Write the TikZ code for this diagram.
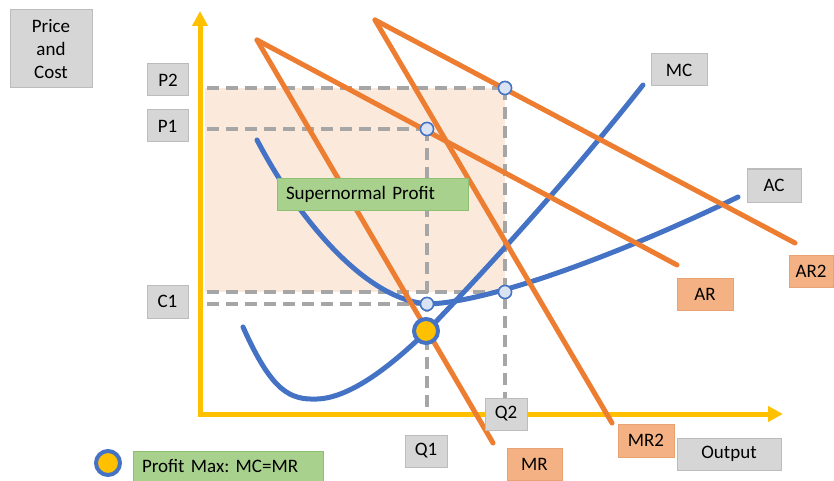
\documentclass[tikz,border=0pt]{standalone}
\usepackage{fontspec}
\setmainfont{Carlito}
\frenchspacing
\usetikzlibrary{arrows.meta}
\definecolor{axisc}{HTML}{FFC000}
\definecolor{bluec}{HTML}{4472C4}
\definecolor{orangec}{HTML}{ED7D31}
\definecolor{profitfill}{HTML}{FBE9DC}
\definecolor{dashc}{HTML}{A6A6A6}
\definecolor{grayf}{HTML}{D6D6D6}
\definecolor{grayb}{HTML}{BCBCBC}
\definecolor{salf}{HTML}{F4B183}
\definecolor{salb}{HTML}{E8A274}
\definecolor{greenf}{HTML}{A9D18E}
\definecolor{greenb}{HTML}{8FBF70}
\definecolor{ptf}{HTML}{DAE3F3}
\tikzset{
  lbl/.style={draw=grayb, fill=grayf, line width=1pt, inner sep=0pt, align=center, font=\fontsize{19}{23}\selectfont},
  sal/.style={draw=salb, fill=salf, line width=1pt, inner sep=0pt, align=center, font=\fontsize{19}{23}\selectfont},
  grn/.style={draw=greenb, fill=greenf, line width=1pt, inner sep=0pt, font=\fontsize{19}{23}\selectfont},
  guide/.style={dashc, line width=4pt, dash pattern=on 12pt off 7pt},
  curve/.style={bluec, line width=5pt, line cap=round},
  revline/.style={orangec, line width=5pt, line cap=round},
  pt/.style={circle, draw=bluec, fill=ptf, line width=1.5pt, minimum size=13pt, inner sep=0pt},
  maxpt/.style={circle, draw=bluec, fill=axisc, line width=4pt, minimum size=24pt, inner sep=0pt},
}
\begin{document}
\begin{tikzpicture}[x=1pt,y=-1pt]
\useasboundingbox (0,0) rectangle (834,481);
% shaded profit area
\fill[profitfill] (205,88) rectangle (505,292);
% coordinates
\coordinate (o) at (200,414);
\coordinate (ytip) at (200,11);
\coordinate (xtip) at (783,414);
\coordinate (p2s) at (207,88);
\coordinate (p1s) at (207,129);
\coordinate (c1s) at (207,292);
\coordinate (c1ls) at (207,304);
\coordinate (q1b) at (427,413);
\coordinate (q2b) at (505,398);
\coordinate (artop) at (257,40);
\coordinate (arend) at (677,265);
\coordinate (mrend) at (493,443);
\coordinate (ar2top) at (375,20);
\coordinate (ar2end) at (795,243);
\coordinate (mr2end) at (612,423);
% points
\node[pt] (e2) at (505,88) {};
\node[pt] (e1) at (427,129) {};
\node[pt] (ac2) at (505,292) {};
\node[pt] (ac1) at (427,304) {};
% guides
\draw[guide] (p2s) -- (e2.center);
\draw[guide] (p1s) -- (e1.center);
\draw[guide] (c1s) -- (ac2.center);
\draw[guide] (c1ls) -- (ac1.center);
\draw[guide] (e1.center) -- (q1b);
\draw[guide] (e2.center) -- (q2b);
% axes
\draw[axisc, line width=5pt, {Triangle[length=15pt,width=15pt]}-{Triangle[length=15pt,width=15pt]}] (ytip) -- (o) -- (xtip);
% cost curves
\draw[curve] (243,327) .. controls (272,392) and (290,400) .. (317,399)
  .. controls (352,398) and (395,362) .. (427,331)
  .. controls (500,255) and (580,165) .. (643,85);
\draw[curve] (257,140) .. controls (300,222) and (368,302) .. (430,304)
  .. controls (505,300) and (650,240) .. (738,197);
% revenue lines
\draw[revline] (artop) -- (arend);
\draw[revline] (artop) -- (mrend);
\draw[revline] (ar2top) -- (ar2end);
\draw[revline] (ar2top) -- (mr2end);
% points on top
\node[pt] at (e2) {};
\node[pt] at (e1) {};
\node[pt] at (ac2) {};
\node[pt] at (ac1) {};
\node[maxpt] (pm) at (426,331) {};
% labels
\node[lbl, minimum width=82pt, minimum height=78pt] (pc) at (51,49) {Price\\and\\Cost};
\node[lbl, minimum width=41pt, minimum height=32pt] (lp2) at (168,80) {P2};
\node[lbl, minimum width=41pt, minimum height=32pt] (lp1) at (167.5,126) {P1};
\node[lbl, minimum width=41pt, minimum height=33pt] (lc1) at (167.5,301.5) {C1};
\node[lbl, minimum width=42pt, minimum height=32pt] (lq1) at (426,451) {Q1};
\node[lbl, minimum width=42pt, minimum height=32pt] (lq2) at (506,414) {Q2};
\node[lbl, minimum width=104pt, minimum height=32pt] (lout) at (729,454) {Output};
\node[lbl, minimum width=56pt, minimum height=32pt] (lmc) at (679,70) {MC};
\node[lbl, minimum width=54pt, minimum height=33pt] (lac) at (774,185.5) {AC};
\node[sal, minimum width=55pt, minimum height=32pt] (lmr) at (534.5,464) {MR};
\node[sal, minimum width=56pt, minimum height=33pt] (lmr2) at (646,440.5) {MR2};
\node[sal, minimum width=56pt, minimum height=32pt] (lar) at (705,294) {AR};
\node[sal, minimum width=44pt, minimum height=32pt] (lar2) at (811,271) {AR2};
\node[grn, minimum width=191pt, minimum height=32pt, text width=173pt, align=left, inner xsep=9pt] (sp) at (372.5,194) {Supernormal Profit};
\node[grn, minimum width=190pt, minimum height=30pt, text width=172pt, align=left, inner xsep=9pt] (pmx) at (228,466) {Profit Max: MC=MR};
\node[maxpt] (leg) at (108,463) {};
\end{tikzpicture}
\end{document}
